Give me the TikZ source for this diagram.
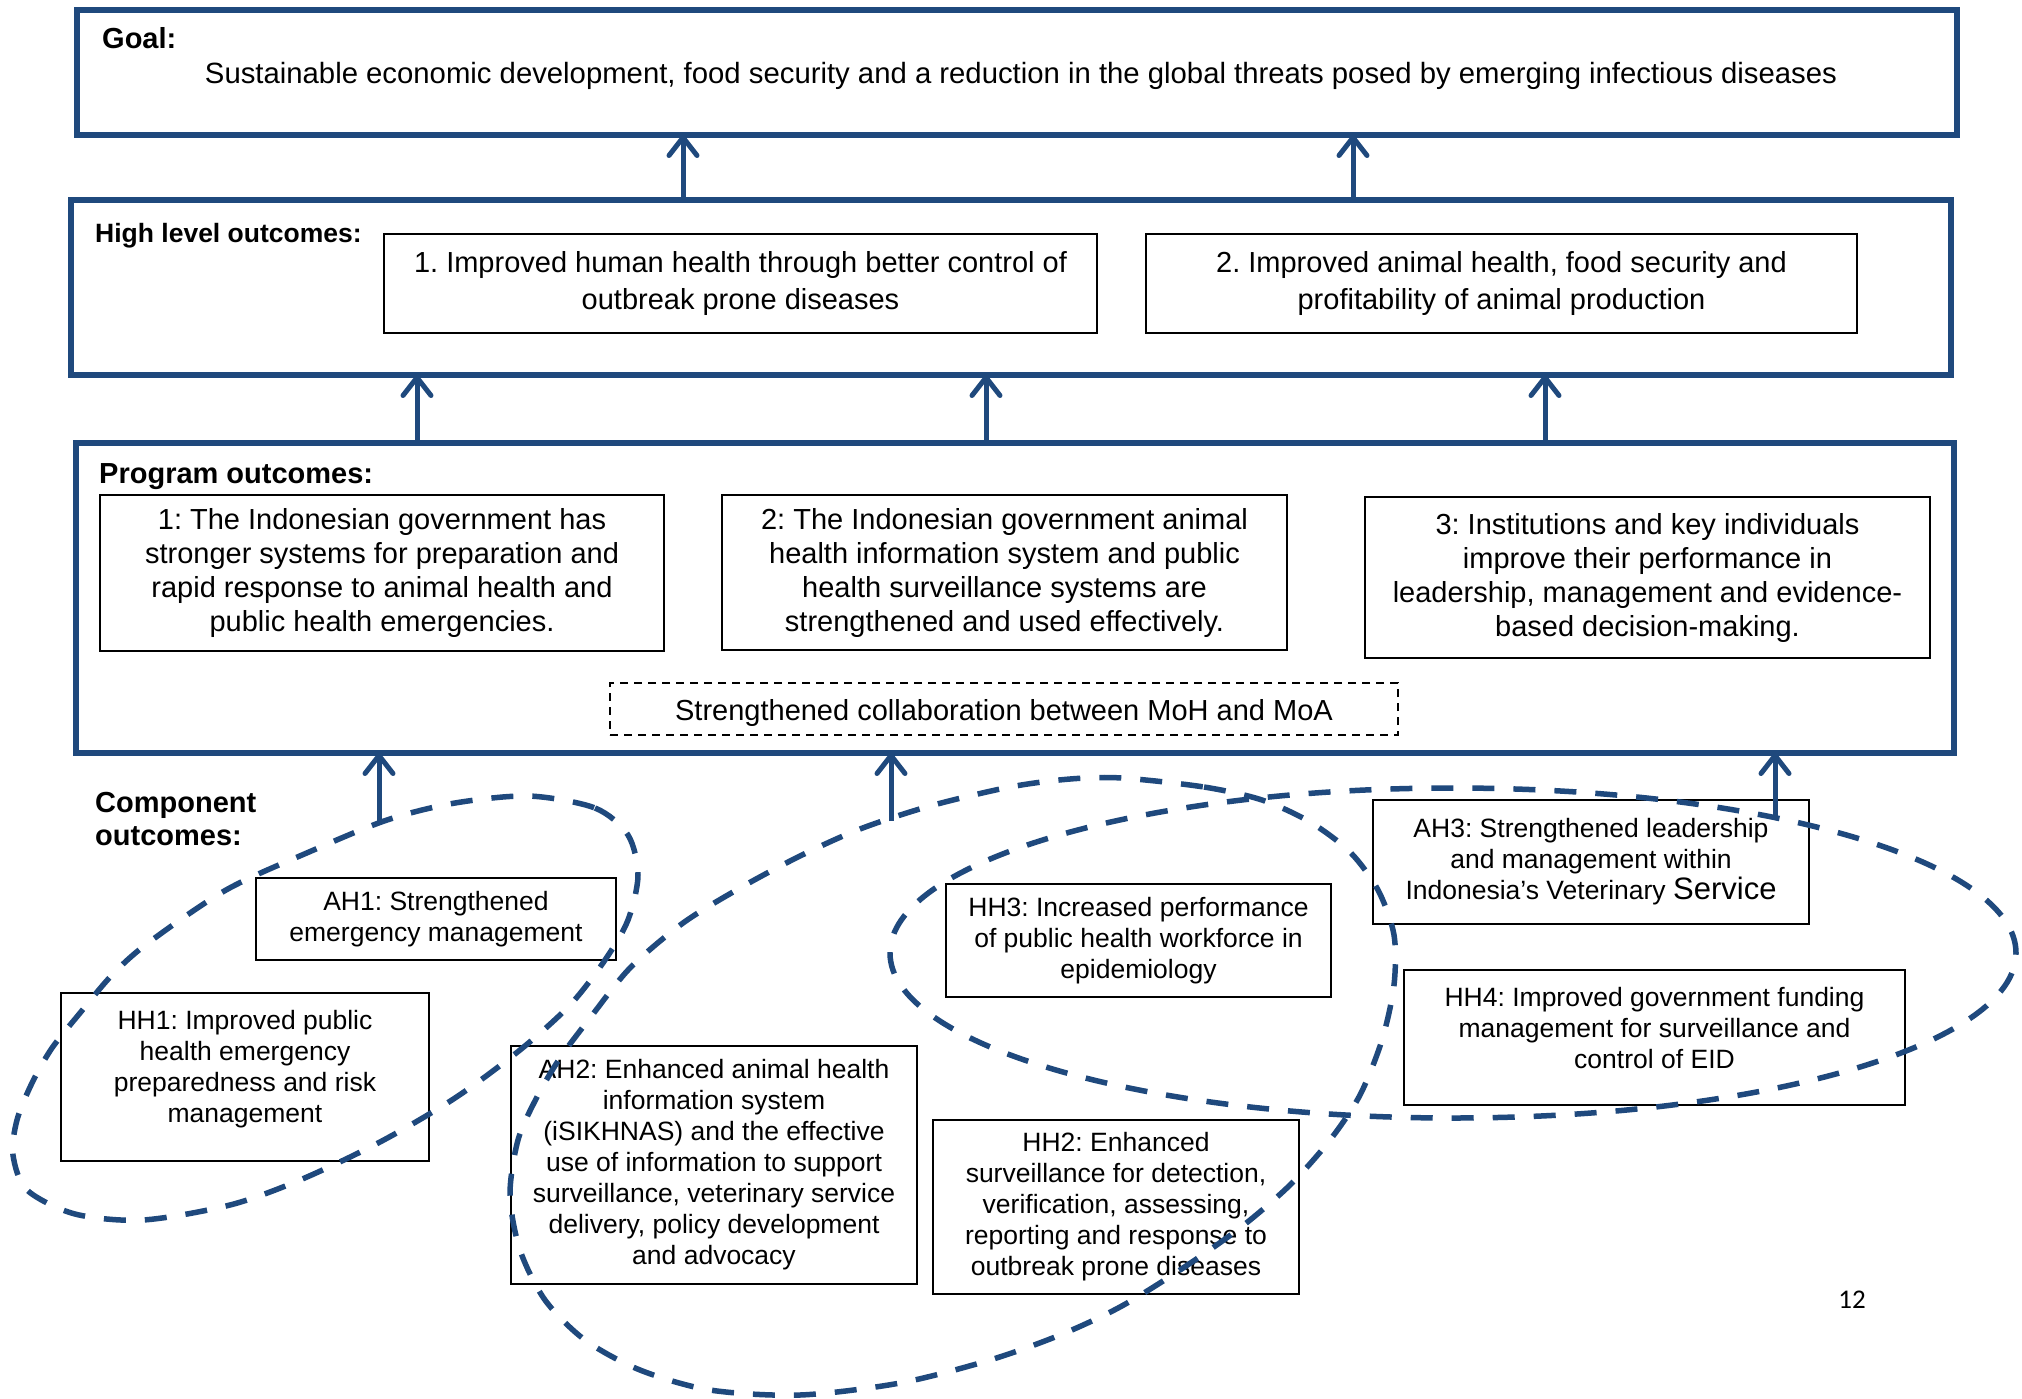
\documentclass[tikz,border=0pt]{standalone}
\usepackage{fontspec}
\setmainfont{Liberation Sans}
\newfontfamily\pagefont{Carlito}
\usetikzlibrary{arrows.meta}
\definecolor{dblue}{RGB}{31,73,125}
\frenchspacing
\begin{document}
\frenchspacing
\begin{tikzpicture}[x=1pt,y=-1pt,
  bigbox/.style={draw=dblue, line width=6pt, inner sep=0pt, outer sep=0pt},
  ibox/.style={draw=black, line width=2pt, inner sep=0pt, outer sep=0pt, align=center},
  maintxt/.style={font=\fontsize{29}{34}\selectfont},
  hltxt/.style={font=\fontsize{29}{37}\selectfont},
  comptxt/.style={font=\fontsize{26.5}{31}\selectfont},
  lbl/.style={font=\bfseries\fontsize{29}{32.5}\selectfont, inner sep=0pt, align=left},
  arr/.style={draw=dblue, line width=5pt, -{Straight Barb[length=18pt,width=28pt,round]}},
  ell/.style={draw=dblue, line width=5.5pt, dash pattern=on 22pt off 19pt}]
\useasboundingbox[fill=white] (0,0) rectangle (2022,1398);

% big boxes
\node[bigbox, minimum width=1880pt, minimum height=125pt] (goal) at (1017,72.5) {};
\node[bigbox, minimum width=1880pt, minimum height=175pt] (hl) at (1011,287.5) {};
\node[bigbox, minimum width=1878pt, minimum height=310pt] (prog) at (1015,598) {};

% labels
\node[lbl, anchor=base west] (goallbl) at (102,48) {Goal:};
\node[anchor=base, inner sep=0pt, font=\fontsize{29.3}{34}\selectfont] (goaltxt) at (1021,83)
  {Sustainable economic development, food security and a reduction in the global threats posed by emerging infectious diseases};
\node[lbl, anchor=base west, font=\bfseries\fontsize{26.5}{30}\selectfont] (hllbl) at (95,242) {High level outcomes:};
\node[lbl, anchor=base west] (proglbl) at (99,483) {Program outcomes:};
\node[lbl, anchor=base west] (complbl) at (95,845) {Component\\outcomes:};

% high level outcome boxes
\node[ibox, hltxt, minimum width=713pt, minimum height=99pt] (hl1) at (740.5,283.5)
  {1. Improved human health through better control of\\outbreak prone diseases};
\node[ibox, hltxt, minimum width=711pt, minimum height=99pt] (hl2) at (1501.5,283.5)
  {2. Improved animal health, food security and\\profitability of animal production};

% program outcome boxes
\node[ibox, maintxt, minimum width=564pt, minimum height=156pt] (po1) at (382,573)
  {1: The Indonesian government has\\stronger systems for preparation and\\rapid response to animal health and\\public health emergencies.};
\node[ibox, maintxt, minimum width=565pt, minimum height=155pt] (po2) at (1004.5,572.5)
  {2: The Indonesian government animal\\health information system and public\\health surveillance systems are\\strengthened and used effectively.};
\node[ibox, maintxt, minimum width=565pt, minimum height=161pt] (po3) at (1647.5,577.5)
  {3: Institutions and key individuals\\improve their performance in\\leadership, management and evidence-\\based decision-making.};
\node[ibox, maintxt, dash pattern=on 8pt off 6pt, minimum width=788pt, minimum height=52pt,
      text height=23.8pt, text depth=0pt] (collab) at (1004,709)
  {Strengthened collaboration between MoH and MoA};

% component boxes
\node[ibox, comptxt, minimum width=360pt, minimum height=82pt] (ah1) at (436,919)
  {AH1: Strengthened\\emergency management};
\node[ibox, comptxt, minimum width=368pt, minimum height=168pt] (hh1) at (245,1077)
  {HH1: Improved public\\health emergency\\preparedness and risk\\management\\[-9pt]~};
\node[ibox, comptxt, minimum width=406pt, minimum height=238pt] (ah2) at (714,1165)
  {AH2: Enhanced animal health\\information system\\(iSIKHNAS) and the effective\\use of information to support\\surveillance, veterinary service\\delivery, policy development\\and advocacy};
\node[ibox, comptxt, minimum width=385pt, minimum height=113pt] (hh3) at (1138.5,940.5)
  {HH3: Increased performance\\of public health workforce in\\epidemiology};
\node[ibox, comptxt, minimum width=436pt, minimum height=124pt] (ah3) at (1591,862)
  {AH3: Strengthened leadership\\and management within\\Indonesia’s Veterinary {\fontsize{31}{31}\selectfont Service}};
\node[ibox, comptxt, minimum width=501pt, minimum height=135pt] (hh4) at (1654.5,1037.5)
  {HH4: Improved government funding\\management for surveillance and\\control of EID\\[-11pt]~};
\node[ibox, comptxt, minimum width=366pt, minimum height=174pt] (hh2) at (1116,1207)
  {HH2: Enhanced\\surveillance for detection,\\verification, assessing,\\reporting and response to\\outbreak prone diseases};

% page number
\node[font=\pagefont\fontsize{27}{30}\selectfont, inner sep=0pt] (pnum) at (1852,1300) {12};

% connector x positions
\coordinate (g1) at (683,0);
\coordinate (g2) at (1353,0);
\coordinate (h1) at (417,0);
\coordinate (h2) at (986,0);
\coordinate (h3) at (1545,0);
\coordinate (c1) at (379,822);
\coordinate (c2) at (891,821);
\coordinate (c3) at (1775,818);

\draw[arr] (hl.north -| g1) -- (goal.south -| g1);
\draw[arr] (hl.north -| g2) -- (goal.south -| g2);
\draw[arr] (prog.north -| h1) -- (hl.south -| h1);
\draw[arr] (prog.north -| h2) -- (hl.south -| h2);
\draw[arr] (prog.north -| h3) -- (hl.south -| h3);
\draw[arr] (c1) -- (prog.south -| c1);
\draw[arr] (c2) -- (prog.south -| c2);
\draw[arr] (c3) -- (prog.south -| c3);

% dashed groupings
\draw[ell] plot[smooth cycle] coordinates {(529,796) (595,808) (628,835) (638,875) (628,920) (605,960) (570,1005) (520,1050) (455,1098) (380,1142) (300,1180) (230,1205) (143,1220) (75,1214) (27,1190) (13,1155) (17,1120) (32,1083) (52,1048) (80,1013) (112,975) (148,943) (226,890) (309,852) (387,820) (455,803)};
\draw[ell] plot[smooth cycle] coordinates {(1122,778) (1204,787) (1262,800) (1310,822) (1350,852) (1378,890) (1394,935) (1394,985) (1382,1040) (1360,1095) (1330,1140) (1290,1185) (1240,1228) (1180,1270) (1120,1307) (1060,1335) (990,1360) (900,1383) (800,1395) (710,1390) (640,1370) (585,1340) (545,1300) (520,1250) (510,1195) (518,1140) (537,1097) (560,1058) (590,1018) (630,968) (683,923) (740,888) (800,856) (860,829) (930,806) (1010,787) (1070,779)};
\draw[ell] (1453,953) ellipse [x radius=563pt, y radius=165pt];
\end{tikzpicture}
\end{document}
